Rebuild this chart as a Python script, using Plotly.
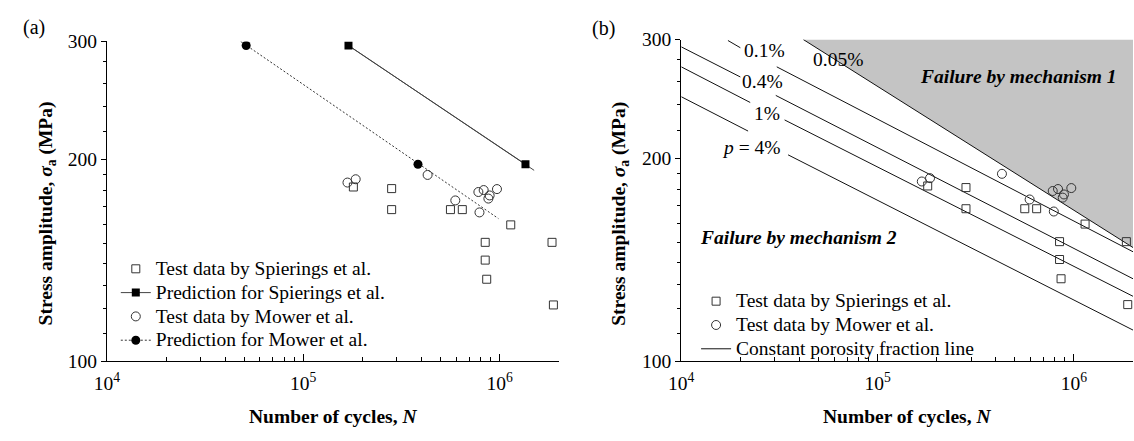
import math
import plotly.graph_objects as go

W, H = 1134, 441
FONT = "Liberation Serif"
FS = 19.5

# ---------------- data ----------------
spierings_N = [180000, 282000, 282000, 562000, 646000, 1140000, 845000, 1850000, 845000, 860000, 1880000]
spierings_S = [182.0, 181.0, 168.4, 168.4, 168.4, 159.8, 150.5, 150.5, 141.6, 132.6, 121.4]

mower_N = [168000, 185000, 430000, 595000, 780000, 830000, 890000, 877000, 970000, 790000]
mower_S = [184.8, 186.9, 189.7, 173.8, 178.9, 180.1, 176.8, 174.9, 180.7, 166.8]

pred_spierings_N = [170000, 1355000]
pred_spierings_S = [295.8, 196.8]
pred_spierings_line_N = [170000, 1500000]
pred_spierings_line_S = [295.8, 192.7]

pred_mower_N = [51200, 384000]
pred_mower_S = [295.8, 196.8]
pred_mower_line_N = [48000, 987000]
pred_mower_line_S = [300.0, 163.3]

# constant porosity fraction lines (None = gap left for the label)
porosity_labels = ["0.05%", "0.1%", "0.4%", "1%", "<i>p</i> = 4%"]
por_005_N = [41840, 2000000]
por_005_S = [300.0, 147.5]
por_01_N = [17290, 20000, None, 30650, 2000000]
por_01_S = [299.0, 291.7, None, 273.3, 145.4]
por_04_N = [10000, 20000, None, 30300, 2000000]
por_04_S = [292.6, 264.0, None, 247.9, 132.6]
por_1_N = [10000, 22450, None, 33600, 2000000]
por_1_S = [273.3, 242.0, None, 228.0, 124.9]
por_4_N = [10000, 21900, None, 35000, 2000000]
por_4_S = [246.8, 219.5, None, 202.4, 111.3]

# region "failure by mechanism 1" (above the 0.05% line)
region1_N = [41840, 2000000, 2000000]
region1_S = [300.0, 147.5, 300.0]

x_tick_vals = [1e4, 1e5, 1e6]
x_tick_text = ["10<sup>4</sup>", "10<sup>5</sup>", "10<sup>6</sup>"]
x_minor_vals = [m * 10 ** e for e in (4, 5) for m in range(2, 10)] + [2e6]
y_tick_vals = [100, 200, 300]
y_tick_text = ["100", "200", "300"]
y_minor_vals = [110, 120, 130, 140, 150, 160, 170, 180, 190, 220, 240, 260, 280]

X_RANGE = [4, math.log10(2e6)]
Y_RANGE = [2, math.log10(300)]

# ---------------- layout geometry (pixels) ----------------
def px(x):
    return x / W

def py(y):
    return 1 - y / H

def big(t):
    # legend rows are spaced by the legend font size; the text itself is drawn larger
    return '<span style="font-size:%.1fpx">%s</span>' % (FS, t)

A_X0, A_X1 = 95, 552
B_X0, B_X1 = 676, 1133
Y_TOP_A, Y_TOP_B, Y_BOT = 33, 31, 369

MARK_C = "#333333"
sq_open = dict(symbol="square-open", size=8, color=MARK_C, line=dict(width=1, color=MARK_C))
ci_open = dict(symbol="circle-open", size=9, color=MARK_C, line=dict(width=1, color=MARK_C))

fig = go.Figure()

# ---------------- panel (a) ----------------
fig.add_trace(go.Scatter(x=spierings_N, y=spierings_S, mode="markers", marker=sq_open,
                         name=big("Test data by Spierings et al."), xaxis="x", yaxis="y",
                         legend="legend", legendrank=1))
fig.add_trace(go.Scatter(x=pred_spierings_line_N, y=pred_spierings_line_S, mode="lines",
                         line=dict(color="#444444", width=1), showlegend=False,
                         xaxis="x", yaxis="y", hoverinfo="skip"))
fig.add_trace(go.Scatter(x=pred_spierings_N, y=pred_spierings_S, mode="lines+markers",
                         line=dict(color="#444444", width=1),
                         marker=dict(symbol="square", size=8, color="black"),
                         name=big("Prediction for Spierings et al."), xaxis="x", yaxis="y",
                         legend="legend", legendrank=2))
fig.add_trace(go.Scatter(x=mower_N, y=mower_S, mode="markers", marker=ci_open,
                         name=big("Test data by Mower et al."), xaxis="x", yaxis="y",
                         legend="legend", legendrank=3))
fig.add_trace(go.Scatter(x=pred_mower_line_N, y=pred_mower_line_S, mode="lines",
                         line=dict(color="#333333", width=1, dash="2px,2px"), showlegend=False,
                         xaxis="x", yaxis="y", hoverinfo="skip"))
fig.add_trace(go.Scatter(x=pred_mower_N, y=pred_mower_S, mode="markers",
                         marker=dict(symbol="circle", size=9, color="black"), showlegend=False,
                         xaxis="x", yaxis="y"))
fig.add_trace(go.Scatter(x=[None], y=[None], mode="lines+markers",
                         line=dict(color="#333333", width=1, dash="2px,2px"),
                         marker=dict(symbol="circle", size=9, color="black"),
                         name=big("Prediction for Mower et al."), xaxis="x", yaxis="y",
                         legend="legend", legendrank=4))

# ---------------- panel (b) ----------------
fig.add_trace(go.Scatter(x=region1_N, y=region1_S, mode="lines", fill="toself",
                         fillcolor="#c4c4c4", line=dict(width=0), showlegend=False,
                         xaxis="x2", yaxis="y2", hoverinfo="skip"))
por_lines = [(por_005_N, por_005_S), (por_01_N, por_01_S), (por_04_N, por_04_S),
             (por_1_N, por_1_S), (por_4_N, por_4_S)]
for i, (n, s) in enumerate(por_lines):
    fig.add_trace(go.Scatter(x=n, y=s, mode="lines", line=dict(color="#111111", width=1),
                             name=big("Constant porosity fraction line"), showlegend=(i == 0),
                             connectgaps=False, xaxis="x2", yaxis="y2",
                             legend="legend2", legendrank=3))
fig.add_trace(go.Scatter(x=spierings_N, y=spierings_S, mode="markers", marker=sq_open,
                         name=big("Test data by Spierings et al."), xaxis="x2", yaxis="y2",
                         legend="legend2", legendrank=1))
fig.add_trace(go.Scatter(x=mower_N, y=mower_S, mode="markers", marker=ci_open,
                         name=big("Test data by Mower et al."), xaxis="x2", yaxis="y2",
                         legend="legend2", legendrank=2))

# ---------------- axes ----------------
def xaxis(x0, x1, anchor):
    return dict(type="log", range=X_RANGE, domain=[px(x0), px(x1)], anchor=anchor,
                showline=True, linecolor="black", linewidth=1, mirror=False,
                ticks="inside", ticklen=7, tickwidth=1, tickcolor="black",
                tickvals=x_tick_vals, ticktext=x_tick_text, ticklabelstandoff=4,
                minor=dict(tickvals=x_minor_vals, ticks="inside", ticklen=4,
                           tickwidth=1, tickcolor="black", showgrid=False),
                showgrid=False, zeroline=False,
                tickfont=dict(family=FONT, size=FS, color="black"))

def yaxis(top, anchor):
    return dict(type="log", range=Y_RANGE, domain=[py(Y_BOT), py(top)], anchor=anchor,
                showline=True, linecolor="black", linewidth=1, mirror=False,
                ticks="outside", ticklen=5, tickwidth=1, tickcolor="black",
                tickvals=y_tick_vals, ticktext=y_tick_text,
                minor=dict(tickvals=y_minor_vals, ticks="outside", ticklen=3,
                           tickwidth=1, tickcolor="black", showgrid=False),
                showgrid=False, zeroline=False,
                tickfont=dict(family=FONT, size=FS, color="black"))

legend_common = dict(font=dict(family=FONT, size=16, color="black"),
                     bgcolor="rgba(0,0,0,0)", borderwidth=0,
                     xanchor="left", yanchor="top", tracegroupgap=0)

fig.update_layout(
    width=W, height=H, margin=dict(l=0, r=0, t=0, b=0),
    paper_bgcolor="white", plot_bgcolor="white",
    font=dict(family=FONT, size=FS, color="black"),
    xaxis=xaxis(A_X0, A_X1, "y"), yaxis=yaxis(Y_TOP_A, "x"),
    xaxis2=xaxis(B_X0, B_X1, "y2"), yaxis2=yaxis(Y_TOP_B, "x2"),
    legend=dict(x=px(104), y=py(254), **legend_common),
    legend2=dict(x=px(691), y=py(288), **legend_common),
)

def ann(x, y, text, size=FS, angle=0):
    fig.add_annotation(x=px(x), y=py(y), xref="paper", yref="paper", text=text,
                       showarrow=False, textangle=angle, xanchor="center", yanchor="middle",
                       font=dict(family=FONT, size=size, color="black"))

ann(21, 18, "(a)", size=20)
ann(597, 19, "(b)", size=20)
ann(324, 427, "<b>Number of cycles, <i>N</i></b>")
ann(904, 427, "<b>Number of cycles, <i>N</i></b>")
ann(34, 214, "<b>Stress amplitude, <i>σ</i><sub>a</sub> (MPa)</b>", angle=-90)
ann(614, 214, "<b>Stress amplitude, <i>σ</i><sub>a</sub> (MPa)</b>", angle=-90)

label_pos = [(835, 52), (760, 42), (758, 75), (763, 109), (747, 144)]
for lab, (lx, ly) in zip(porosity_labels, label_pos):
    ann(lx, ly, lab)
ann(1017, 70, "<b><i>Failure by mechanism 1</i></b>")
ann(795, 239, "<b><i>Failure by mechanism 2</i></b>")

fig.write_html("out.html")
